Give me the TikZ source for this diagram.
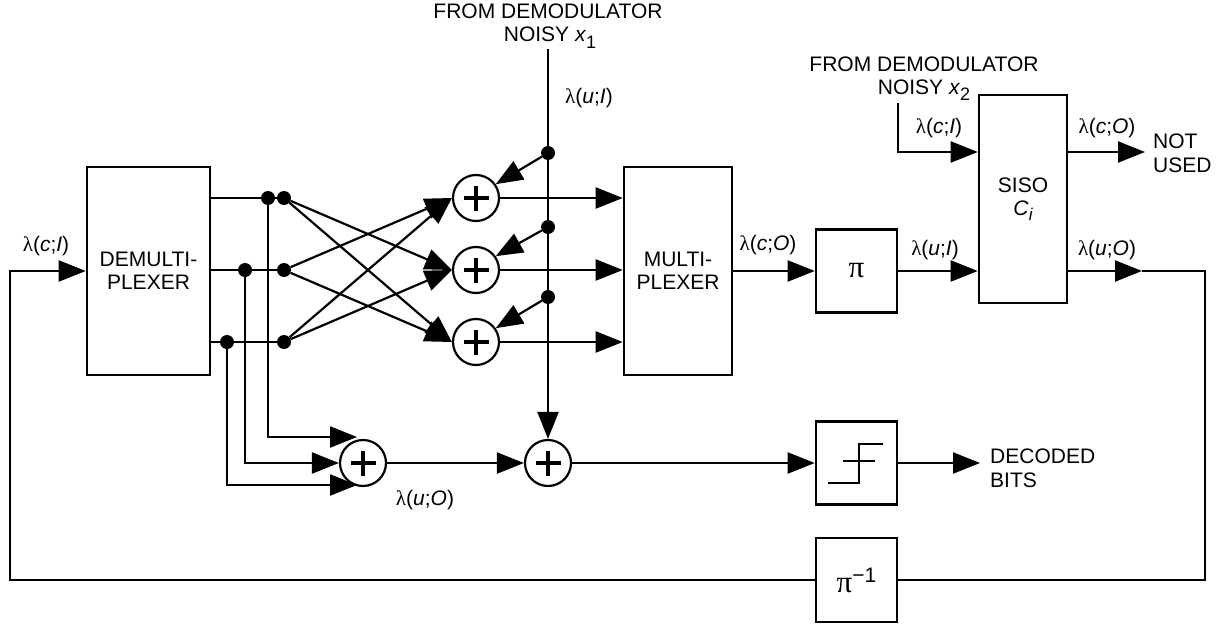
\documentclass[tikz,border=0pt]{standalone}
\usepackage{fontspec}
\setmainfont{Liberation Sans}
\newfontfamily\serfont{Liberation Serif}
\usetikzlibrary{arrows.meta,calc}
\newcommand\lam{{\serfont λ}}
\newcommand\lbl[2]{\lam(\textit{#1};\textit{#2})}
\newcommand\mysub[1]{\raisebox{-6pt}{\fontsize{18}{18}\selectfont #1}}
\newcommand\bigpi{{\fontsize{31}{31}\serfont π}}
\begin{document}
\begin{tikzpicture}[x=1pt,y=-1pt,
 every node/.style={font=\fontsize{21}{23}\selectfont},
 conn/.style={line width=2.2pt},
 arr/.style={conn,-{Triangle[length=27pt,width=21pt]}},
 box/.style={draw,line width=2.6pt,inner sep=0pt,align=center},
 adder/.style={circle,draw,line width=2.2pt,minimum size=46pt,inner sep=0pt,
   path picture={\draw[line width=4.2pt] ([xshift=-12.5pt]path picture bounding box.center) -- ([xshift=12.5pt]path picture bounding box.center);
                 \draw[line width=4.2pt] ([yshift=-12.5pt]path picture bounding box.center) -- ([yshift=12.5pt]path picture bounding box.center);}},
 dot/.style={circle,fill,inner sep=0pt,minimum size=14pt},
 lab/.style={anchor=base,inner sep=0pt}
]
\useasboundingbox (0,0) rectangle (1220,626);
% boxes
\node[box,minimum width=123pt,minimum height=208pt] (demux) at (148.5,271) {DEMULTI-\\PLEXER};
\node[box,minimum width=108pt,minimum height=208pt] (mux) at (678,271) {MULTI-\\PLEXER};
\node[box,minimum width=81pt,minimum height=83pt] (pi) at (856.5,271) {\bigpi};
\node[box,minimum width=88pt,minimum height=208pt] (siso) at (1023,199) {SISO\\\textit{C}\raisebox{-5pt}{\fontsize{17}{17}\selectfont\itshape i}};
\node[box,minimum width=81pt,minimum height=83pt] (lim) at (856.5,463) {};
\node[box,minimum width=81pt,minimum height=84pt] (pinv) at (856.5,580) {\bigpi\raisebox{10pt}{−1}};
% hard limiter glyph
\draw[conn] ($(lim.center)+(-28.5,20)$) -- ++(31,0) -- ++(0,-39) -- ++(24,0);
\draw[conn] ($(lim.center)+(-13.5,-2)$) -- ++(32,0);
% adders
\node[adder] (a1) at (476,198) {};
\node[adder] (a2) at (476,270) {};
\node[adder] (a3) at (476,342) {};
\node[adder] (s4) at (363,463) {};
\node[adder] (s5) at (548,463) {};
% dots
\node[dot] (t1) at (268,198) {};
\node[dot] (t2) at (284,198) {};
\node[dot] (m1) at (245,270) {};
\node[dot] (m2) at (284,270) {};
\node[dot] (b1) at (227,342) {};
\node[dot] (b2) at (284,342) {};
\node[dot] (d1) at (548,153) {};
\node[dot] (d2) at (548,227) {};
\node[dot] (d3) at (548,297) {};
% coordinates
\coordinate (x1top) at (548,49);
\coordinate (x2top) at (898,103);
\coordinate (rowA) at (0,152);
\coordinate (nu) at (1145,152);
\coordinate (fb1) at (1142,271);
\coordinate (fb2) at (1205,271);
\coordinate (fb3) at (1205,580);
\coordinate (fb4) at (10,580);
\coordinate (fb5) at (10,271);
\coordinate (dec) at (980,463);
% demux outputs
\draw[conn] (demux.east |- t1) -- (t1) -- (t2);
\draw[conn] (demux.east |- m1) -- (m1) -- (m2);
\draw[conn] (demux.east |- b1) -- (b1) -- (b2);
% cross connections
\draw[arr] (t2) -- (a2.west);
\draw[arr] (t2) -- (a3.west);
\draw[arr] (m2) -- (a1.west);
\draw[arr] (m2) -- (a3.west);
\draw[arr] (b2) -- (a1.west);
\draw[arr] (b2) -- (a2.west);
% adders to mux
\draw[arr] (a1.east) -- (a1.east -| mux.west);
\draw[arr] (a2.east) -- (a2.east -| mux.west);
\draw[arr] (a3.east) -- (a3.east -| mux.west);
% x1 input
\draw[arr] (x1top) -- (s5.north);
\draw[arr] (d1) -- (a1.35);
\draw[arr] (d2) -- (a2.35);
\draw[arr] (d3) -- (a3.35);
% bottom adders
\draw[arr] (t1) |- ($(s4.center)+(-6,-26)$);
\draw[arr] (m1) |- (s4.west);
\draw[arr] (b1) |- ($(s4.center)+(-6,22)$);
\draw[arr] (s4) -- (s5);
\draw[arr] (s5) -- (lim);
\draw[arr] (lim) -- (dec);
% main chain
\draw[arr] (mux.east |- pi) -- (pi);
\draw[arr] (pi) -- (pi -| siso.west);
\draw[arr] (x2top) |- (siso.west |- rowA);
\draw[arr] (siso.east |- rowA) -- (nu);
\draw[arr] (siso.east |- pi) -- (fb1);
\draw[conn] (fb1) -- (fb2) -- (fb3) -- (pinv);
\draw[arr] (pinv) -- (fb4) -- (fb5) -- (demux.west |- fb5);
% labels
\node[lab] (l1) at (46,251) {\lbl{c}{I}};
\node[lab] (l2) at (589,103) {\lbl{u}{I}};
\node[lab] (l3) at (768,250) {\lbl{c}{O}};
\node[lab] (l4) at (935,255) {\lbl{u}{I}};
\node[lab] (l5) at (939,133) {\lbl{c}{I}};
\node[lab] (l6) at (1107,133) {\lbl{c}{O}};
\node[lab] (l7) at (1107,255) {\lbl{u}{O}};
\node[lab] (l8) at (425,505) {\lbl{u}{O}};
\node[lab] (t1a) at (548,19) {FROM DEMODULATOR};
\node[lab] (t1b) at (550,42) {NOISY \textit{x}\mysub{1}};
\node[lab] (t2a) at (924,71) {FROM DEMODULATOR};
\node[lab] (t2b) at (924,94) {NOISY \textit{x}\mysub{2}};
\node[lab,anchor=base west] (nu1) at (1153,148) {NOT};
\node[lab,anchor=base west] (nu2) at (1153,172) {USED};
\node[lab,anchor=base west] (db1) at (990,463) {DECODED};
\node[lab,anchor=base west] (db2) at (990,487) {BITS};
\end{tikzpicture}
\end{document}
